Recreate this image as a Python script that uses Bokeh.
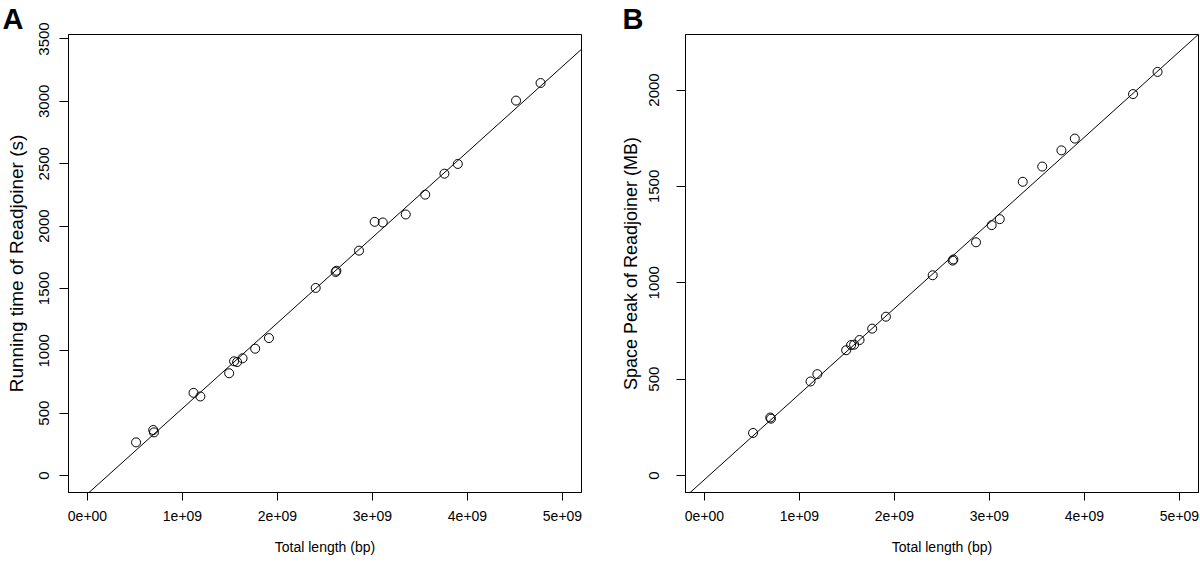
from bokeh.plotting import figure
from bokeh.layouts import row
from bokeh.models import Range1d, FixedTicker, Slope
from bokeh.embed import file_html
from bokeh.resources import INLINE

# ---- data ----
total_length = [0.511e9, 0.692e9, 0.700e9, 1.116e9, 1.188e9, 1.491e9, 1.543e9, 1.575e9,
                1.632e9, 1.765e9, 1.910e9, 2.402e9, 2.612e9, 2.620e9, 2.858e9, 3.023e9,
                3.108e9, 3.350e9, 3.555e9, 3.757e9, 3.898e9, 4.511e9, 4.769e9]
running_time = [266, 365, 346, 663, 634, 820, 916, 910, 940, 1017, 1102, 1504,
                1632, 1642, 1803, 2034, 2029, 2093, 2252, 2420, 2498, 3006, 3147]
space_peak = [221, 301, 295, 488, 526, 650, 677, 679, 703, 762, 824, 1039,
              1115, 1121, 1210, 1299, 1330, 1524, 1603, 1687, 1748, 1979, 2094]

# fitted lines (abline)
time_slope, time_intercept = 685.5e-9, -147.0
space_slope, space_intercept = 444.2e-9, -21.0

x_ticks = [0, 1e9, 2e9, 3e9, 4e9, 5e9]
x_tick_labels = ["0e+00", "1e+09", "2e+09", "3e+09", "4e+09", "5e+09"]
time_ticks = [0, 500, 1000, 1500, 2000, 2500, 3000, 3500]
space_ticks = [0, 500, 1000, 1500, 2000]

FONT = "Liberation Sans"


def make_panel(y, yr, yticks, slope, intercept, ylabel, letter, letter_offset,
               mbl, mbr, tick_standoff, label_standoff, label_size):
    p = figure(width=600, height=563, x_range=Range1d(-0.2e9, 5.2e9), y_range=Range1d(*yr),
               output_backend="svg", toolbar_location=None,
               min_border_left=mbl, min_border_right=mbr, min_border_top=33, min_border_bottom=71)
    p.xgrid.visible = False
    p.ygrid.visible = False
    p.outline_line_color = "black"
    p.outline_line_width = 1
    p.outline_line_alpha = 1
    p.background_fill_color = "white"
    p.border_fill_color = "white"

    p.title.text = letter
    p.title.align = "left"
    p.title.offset = letter_offset
    p.title.standoff = 0
    p.title.text_font = FONT
    p.title.text_font_size = "29px"
    p.title.text_font_style = "bold"
    p.title.text_color = "black"

    xa = p.xaxis[0]
    xa.ticker = FixedTicker(ticks=x_ticks)
    xa.major_label_overrides = {t: l for t, l in zip(x_ticks, x_tick_labels)}
    xa.axis_label = "Total length (bp)"
    xa.major_tick_in = 0
    xa.major_tick_out = 8
    xa.minor_tick_line_color = None
    xa.major_label_standoff = 10
    xa.axis_label_standoff = 15
    xa.major_label_text_font = FONT
    xa.major_label_text_font_size = "14px"
    xa.axis_label_text_font = FONT
    xa.axis_label_text_font_size = "14px"
    xa.axis_label_text_font_style = "normal"
    xa.axis_line_color = "black"
    xa.major_tick_line_color = "black"
    xa.major_label_text_color = "black"
    xa.axis_label_text_color = "black"

    ya = p.yaxis[0]
    ya.ticker = FixedTicker(ticks=yticks)
    ya.axis_label = ylabel
    ya.major_tick_in = 0
    ya.major_tick_out = 9
    ya.minor_tick_line_color = None
    ya.major_label_orientation = "parallel"
    ya.major_label_standoff = tick_standoff
    ya.axis_label_standoff = label_standoff
    ya.major_label_text_font = FONT
    ya.major_label_text_font_size = "15px"
    ya.axis_label_text_font = FONT
    ya.axis_label_text_font_size = label_size
    ya.axis_label_text_font_style = "normal"
    ya.axis_line_color = "black"
    ya.major_tick_line_color = "black"
    ya.major_label_text_color = "black"
    ya.axis_label_text_color = "black"

    p.add_layout(Slope(gradient=slope, y_intercept=intercept, line_color="black", line_width=1))
    p.scatter(total_length, y, marker="circle", size=9, fill_color=None,
              line_color="black", line_width=1)
    return p


pA = make_panel(running_time, (-136, 3536), time_ticks, time_slope, time_intercept,
                "Running time of Readjoiner (s)", "A", -66,
                mbl=68, mbr=19, tick_standoff=10, label_standoff=10, label_size="19px")
pB = make_panel(space_peak, (-88, 2288), space_ticks, space_slope, space_intercept,
                "Space Peak of Readjoiner (MB)", "B", -63,
                mbl=85, mbr=2, tick_standoff=17, label_standoff=6, label_size="18px")

layout = row(pA, pB)
open("out.html", "w").write(file_html(layout, INLINE))
